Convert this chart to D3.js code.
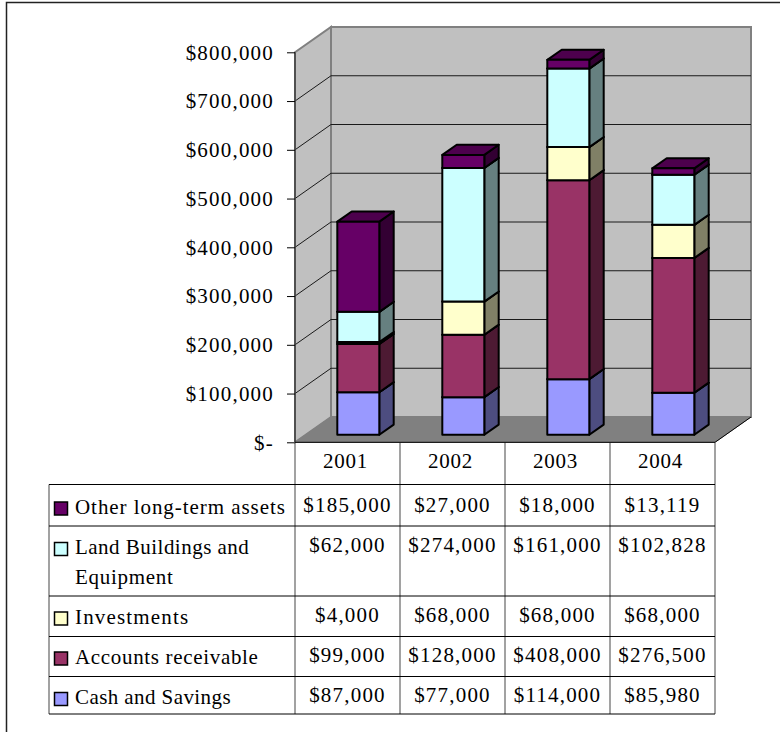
<!DOCTYPE html>
<html>
<head>
<meta charset="utf-8">
<title>Assets by year</title>
<script src="https://cdnjs.cloudflare.com/ajax/libs/d3/7.8.5/d3.min.js"></script>
<style>
  html, body { margin: 0; padding: 0; background: #fff; }
  svg { display: block; }
  text { font-family: "Liberation Serif", "Times New Roman", serif; font-size: 21px; letter-spacing: 1.2px; fill: #000; }
</style>
</head>
<body>
<svg id="chart" width="780" height="732"></svg>
<script>
// 数据
const years = ["2001", "2002", "2003", "2004"];
const cash = [87000, 77000, 114000, 85980];
const receivable = [99000, 128000, 408000, 276500];
const investments = [4000, 68000, 68000, 68000];
const land = [62000, 274000, 161000, 102828];
const other = [185000, 27000, 18000, 13119];
const yTicks = [0, 100000, 200000, 300000, 400000, 500000, 600000, 700000, 800000];

const seriesValues = [cash, receivable, investments, land, other];
const frontColors = ["#9999ff", "#993366", "#ffffcc", "#ccffff", "#660066"];
const sideColors = ["#4d4d80", "#4d1a33", "#808066", "#668080", "#330033"];
const topColors = ["#4d4d80", "#4d1a33", "#808066", "#668080", "#4d004d"];

// 布局
const svg = d3.select("#chart");
const plot = { left: 295, right: 715, top: 52.3, bottom: 442.3, dx: 36, dy: -25.3 };
const tbl = { left: 49, right: 715, head: 442.3, bottom: 714 };
const rowLines = [484.5, 526, 596, 636.5, 676.5];   // 表格横线
const barT0 = 0.3, barT1 = 0.7;                     // 柱子在进深方向的起止比例

const x = d3.scaleBand().domain(years).range([plot.left, plot.right]).paddingInner(0.6).paddingOuter(0.3);
const col = d3.scaleBand().domain(years).range([plot.left, plot.right]);
const y = d3.scaleLinear().domain([0, 800000]).range([plot.bottom, plot.top]);

const pts = (arr) => arr.map((p) => p.join(",")).join(" ");

// 外框（只有左、上两边可见）
svg.append("path").attr("d", "M6.5,732V2.5H780").attr("fill", "none").attr("stroke", "#222").attr("stroke-width", 1.5);

// 背景墙 + 侧墙 + 地板
const bx = plot.dx, by = plot.dy;
svg.append("polygon").attr("fill", "#c0c0c0").attr("stroke", "#808080").attr("stroke-width", 2)
  .attr("points", pts([[plot.left + bx, y(800000) + by], [plot.right + bx, y(800000) + by], [plot.right + bx, y(0) + by], [plot.left + bx, y(0) + by]]));
svg.append("polygon").attr("fill", "#c0c0c0").attr("stroke", "#808080").attr("stroke-width", 2)
  .attr("points", pts([[plot.left, y(800000)], [plot.left + bx, y(800000) + by], [plot.left + bx, y(0) + by], [plot.left, y(0)]]));

// 网格线
yTicks.slice(1, -1).forEach((v) => {
  svg.append("polyline").attr("fill", "none").attr("stroke", "#1a1a1a").attr("stroke-width", 1)
    .attr("points", pts([[plot.left, y(v)], [plot.left + bx, y(v) + by], [plot.right + bx, y(v) + by]]));
});
svg.append("polygon").attr("fill", "#808080").attr("stroke", "#808080")
  .attr("points", pts([[plot.left, y(0)], [plot.left + bx, y(0) + by], [plot.right + bx, y(0) + by], [plot.right, y(0)]]));
svg.append("line").attr("x1", plot.right).attr("y1", y(0)).attr("x2", plot.right + bx).attr("y2", y(0) + by)
  .attr("stroke", "#000").attr("stroke-width", 1);

// 堆叠柱
years.forEach((yr, i) => {
  let run = 0;
  const x0 = x(yr) + bx * barT0, x1 = x0 + x.bandwidth();
  const ox = bx * (barT1 - barT0), oy = by * (barT1 - barT0), shift = by * barT0;
  seriesValues.forEach((vals, s) => {
    const yb = y(run) + shift, yt = y(run + vals[i]) + shift;
    run += vals[i];
    const g = svg.append("g").attr("stroke", "#000").attr("stroke-width", 2).attr("stroke-linejoin", "round");
    g.append("polygon").attr("fill", sideColors[s]).attr("points", pts([[x1, yb], [x1 + ox, yb + oy], [x1 + ox, yt + oy], [x1, yt]]));
    g.append("polygon").attr("fill", topColors[s]).attr("points", pts([[x0, yt], [x0 + ox, yt + oy], [x1 + ox, yt + oy], [x1, yt]]));
    g.append("polygon").attr("fill", frontColors[s]).attr("points", pts([[x0, yb], [x1, yb], [x1, yt], [x0, yt]]));
  });
});

// Y 轴
const axis = d3.axisLeft(y).tickValues(yTicks).tickSize(8).tickPadding(13)
  .tickFormat((v) => v === 0 ? "$-" : d3.format("$,")(v));
const ag = svg.append("g").attr("transform", `translate(${plot.left},0)`).call(axis);
ag.select(".domain").attr("stroke", "#404040").attr("stroke-width", 1.5).attr("d", `M0,${plot.top}V${plot.bottom}`);
ag.selectAll(".tick line").attr("stroke", "#000");

// 数据表
const money = d3.format("$,");
const vEdges = years.map((yr) => col(yr)).concat([plot.right]);
vEdges.forEach((vx) => {
  svg.append("line").attr("x1", vx).attr("x2", vx).attr("y1", tbl.head).attr("y2", tbl.bottom)
    .attr("stroke", "#707070").attr("stroke-width", 1.3);
});
svg.append("line").attr("x1", tbl.left).attr("x2", tbl.left).attr("y1", rowLines[0]).attr("y2", tbl.bottom)
  .attr("stroke", "#707070").attr("stroke-width", 1.3);
svg.append("line").attr("x1", plot.left).attr("x2", plot.right).attr("y1", tbl.head).attr("y2", tbl.head).attr("stroke", "#000");
rowLines.concat([tbl.bottom]).forEach((ly) => {
  svg.append("line").attr("x1", tbl.left).attr("x2", tbl.right).attr("y1", ly).attr("y2", ly).attr("stroke", "#000");
});

// 表头
years.forEach((yr) => {
  svg.append("text").attr("x", col(yr) + col.bandwidth() / 2 - 2).attr("y", 467.5).attr("text-anchor", "middle")
    .style("letter-spacing", "0.8px").text(yr);
});

// 表格各行，从上到下与堆叠顺序相反
const rowBase = [511.5, 552, 621.5, 661.5, 702];
const labelLines = [["Other long-term assets"], ["Land Buildings and", "Equipment"], ["Investments"], ["Accounts receivable"], ["Cash and Savings"]];
const labelSpacing = [[0.94], [0.48, 0.7], [1.16], [0.67], [0.42]];   // 原图各行字距不一致
rowBase.forEach((by0, r) => {
  const s = seriesValues.length - 1 - r;
  svg.append("rect").attr("x", 54.5).attr("y", by0 - 9.5).attr("width", 13).attr("height", 13)
    .attr("fill", frontColors[s]).attr("stroke", "#000").attr("stroke-width", 1.5);
  labelLines[r].forEach((line, k) => {
    svg.append("text").attr("x", 75).attr("y", by0 + 2 + k * 30)
      .style("letter-spacing", labelSpacing[r][k] + "px").text(line);
  });
  years.forEach((yr, i) => {
    svg.append("text").attr("x", col(yr) + col.bandwidth() / 2).attr("y", by0).attr("text-anchor", "middle")
      .text(money(seriesValues[s][i]));
  });
});
</script>
</body>
</html>
